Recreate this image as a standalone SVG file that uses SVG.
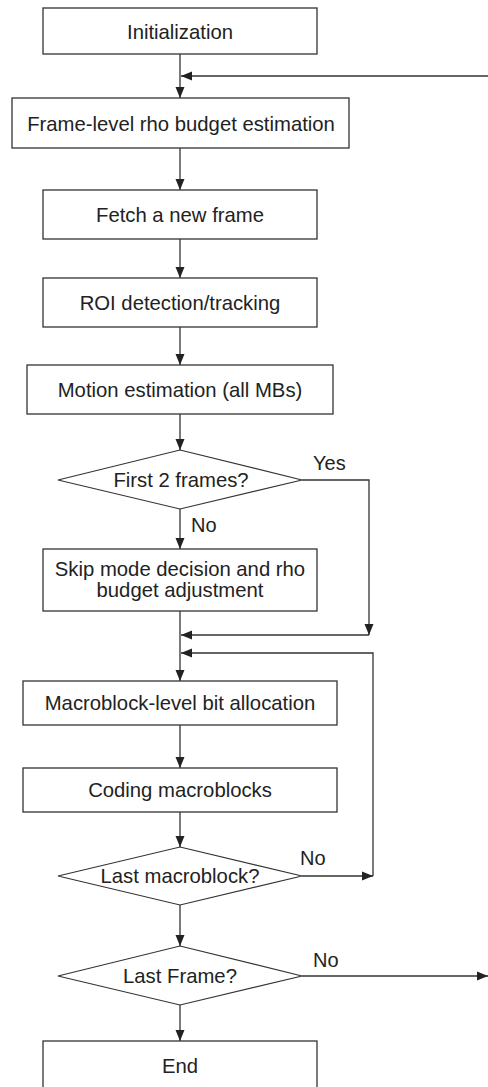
<svg xmlns="http://www.w3.org/2000/svg" width="488" height="1087" viewBox="0 0 488 1087">
  <style>
    .box { fill: #ffffff; stroke: #333333; stroke-width: 1.3; }
    .dec { fill: #ffffff; stroke: #333333; stroke-width: 1.2; }
    .lbl { font-family: "Liberation Sans", Arial, sans-serif; font-size: 20.3px; fill: #222222; text-anchor: middle; }
    .tag { font-family: "Liberation Sans", Arial, sans-serif; font-size: 20px; fill: #222222; }
    .wire { fill: none; stroke: #333333; stroke-width: 1.3; }
    .arr { marker-end: url(#head); }
  </style>
  <defs>
    <marker id="head" markerUnits="userSpaceOnUse" markerWidth="11" markerHeight="10" refX="11" refY="5" orient="auto">
      <path d="M0,0.5 L11,5 L0,9.5 Z" fill="#222222"/>
    </marker>
  </defs>
  <rect width="488" height="1087" fill="#ffffff"/>

  <g id="connectors">
    <line class="wire arr" x1="180" y1="54" x2="180" y2="98"/>
    <line class="wire arr" x1="488" y1="76" x2="181" y2="76"/>
    <line class="wire arr" x1="180" y1="148" x2="180" y2="190"/>
    <line class="wire arr" x1="180" y1="239" x2="180" y2="278"/>
    <line class="wire arr" x1="180" y1="327" x2="180" y2="365"/>
    <line class="wire arr" x1="180" y1="414" x2="180" y2="450"/>
    <line class="wire arr" x1="180" y1="509" x2="180" y2="549"/>
    <polyline class="wire arr" points="302,480 369,480 369,635"/>
    <line class="wire arr" x1="369" y1="635" x2="181" y2="635"/>
    <line class="wire arr" x1="180" y1="611" x2="180" y2="681"/>
    <line class="wire arr" x1="180" y1="725" x2="180" y2="768"/>
    <line class="wire arr" x1="180" y1="812" x2="180" y2="847"/>
    <line class="wire arr" x1="302" y1="876" x2="373" y2="876"/>
    <polyline class="wire arr" points="373,876 373,653 181,653"/>
    <line class="wire arr" x1="180" y1="905" x2="180" y2="946"/>
    <line class="wire arr" x1="302" y1="976" x2="488" y2="976"/>
    <line class="wire arr" x1="180" y1="1005" x2="180" y2="1041"/>
    <text class="tag" x="313" y="470">Yes</text>
    <text class="tag" x="191" y="532">No</text>
    <text class="tag" x="300" y="865">No</text>
    <text class="tag" x="313" y="967">No</text>
  </g>

  <g id="init">
    <rect class="box" x="43" y="8" width="274" height="46"/>
    <text class="lbl" x="180" y="38.5">Initialization</text>
  </g>
  <g id="frame-budget">
    <rect class="box" x="12" y="98" width="337" height="50"/>
    <text class="lbl" x="181" y="131">Frame-level rho budget estimation</text>
  </g>
  <g id="fetch">
    <rect class="box" x="43" y="190" width="274" height="49"/>
    <text class="lbl" x="180" y="221.5">Fetch a new frame</text>
  </g>
  <g id="roi">
    <rect class="box" x="43" y="278" width="274" height="49"/>
    <text class="lbl" x="180" y="310">ROI detection/tracking</text>
  </g>
  <g id="motion">
    <rect class="box" x="27" y="365" width="306" height="49"/>
    <text class="lbl" x="180" y="396.5">Motion estimation (all MBs)</text>
  </g>
  <g id="first-frames">
    <polygon class="dec" points="180,450 302,480 180,509 58,480"/>
    <text class="lbl" x="181" y="487">First 2 frames?</text>
  </g>
  <g id="skip">
    <rect class="box" x="43" y="549" width="274" height="62"/>
    <text class="lbl" x="180" y="576">Skip mode decision and rho</text>
    <text class="lbl" x="180" y="597">budget adjustment</text>
  </g>
  <g id="mb-alloc">
    <rect class="box" x="23" y="681" width="314" height="44"/>
    <text class="lbl" x="180" y="710">Macroblock-level bit allocation</text>
  </g>
  <g id="coding">
    <rect class="box" x="23" y="768" width="314" height="44"/>
    <text class="lbl" x="180" y="797">Coding macroblocks</text>
  </g>
  <g id="last-mb">
    <polygon class="dec" points="180,847 302,876 180,905 58,876"/>
    <text class="lbl" x="180" y="883">Last macroblock?</text>
  </g>
  <g id="last-frame">
    <polygon class="dec" points="180,946 302,976 180,1005 58,976"/>
    <text class="lbl" x="180" y="983">Last Frame?</text>
  </g>
  <g id="end">
    <rect class="box" x="43" y="1041" width="274" height="52"/>
    <text class="lbl" x="180" y="1073">End</text>
  </g>
</svg>
